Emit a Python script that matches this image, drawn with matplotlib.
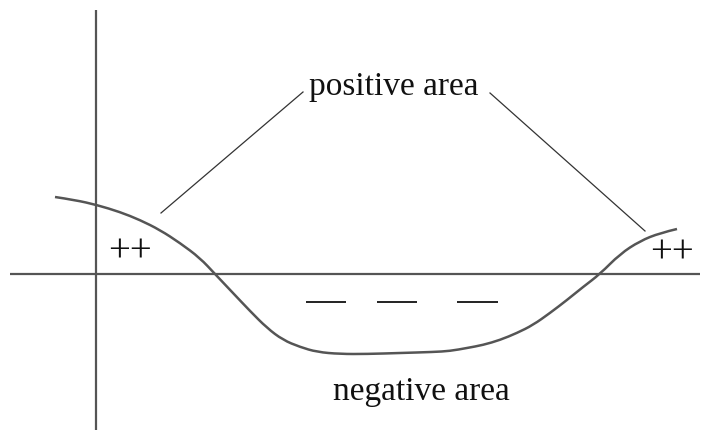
import matplotlib
matplotlib.use('Agg')
import matplotlib.pyplot as plt
from matplotlib.path import Path
from matplotlib.patches import PathPatch
import numpy as np

# curve (pixel coords, y down)
curve_x = [55, 75, 97, 120, 140, 160, 180, 200, 215, 233, 250, 267, 283, 300, 317, 340,
           367, 400, 433, 450, 467, 483, 500, 517, 533, 550, 567, 583, 600, 620, 640,
           660, 677]
curve_y = [197, 200, 205, 212, 220, 230, 243, 258, 274, 293, 311, 328, 340, 347, 352, 354,
           354, 353, 352, 351, 348, 345, 340, 333, 325, 313, 300, 287, 274, 254, 241,
           233, 229]

# axes lines
xaxis_x = [10, 700]
xaxis_y = [274, 274]
yaxis_x = [96, 96]
yaxis_y = [10, 430]

# leader lines from the label
leader_left_x = [161, 303]
leader_left_y = [213, 92]
leader_right_x = [490, 645]
leader_right_y = [93, 231]

# minus signs below the axis
dash_starts = [306, 377, 457]
dash_ends = [346, 417, 498]
dash_y = 302

fig = plt.figure(figsize=(7.01, 4.30), dpi=100)
ax = fig.add_axes([0, 0, 1, 1])
ax.set_xlim(0, 701)
ax.set_ylim(430, 0)
ax.axis('off')

grey = '#555555'
ax.plot(xaxis_x, xaxis_y, color=grey, lw=1.6, solid_capstyle='butt')
ax.plot(yaxis_x, yaxis_y, color=grey, lw=1.6, solid_capstyle='butt')

# smooth curve: read points used as quadratic bezier control points
pts = np.column_stack([curve_x, curve_y]).astype(float)
verts = [pts[0]]
codes = [Path.MOVETO]
for i in range(1, len(pts) - 1):
    mid = (pts[i] + pts[i + 1]) / 2 if i < len(pts) - 2 else pts[i + 1]
    verts += [pts[i], mid]
    codes += [Path.CURVE3, Path.CURVE3]
ax.add_patch(PathPatch(Path(verts, codes), fill=False, edgecolor=grey, lw=1.8))

ax.plot(leader_left_x, leader_left_y, color='#333333', lw=0.9)
ax.plot(leader_right_x, leader_right_y, color='#333333', lw=0.9)
for s, e in zip(dash_starts, dash_ends):
    ax.plot([s, e], [dash_y, dash_y], color='#222222', lw=1.4, solid_capstyle='butt')

font = 'Liberation Serif'
ax.text(394, 95, 'positive area', ha='center', va='baseline', fontsize=24, family=font, color='#111111')
ax.text(421, 400, 'negative area', ha='center', va='baseline', fontsize=24, family=font, color='#111111')
ax.text(130, 252, '++', ha='center', va='center', fontsize=28, family=font, color='#111111')
ax.text(672, 253, '++', ha='center', va='center', fontsize=28, family=font, color='#111111')

plt.savefig('out.png', dpi=100)
